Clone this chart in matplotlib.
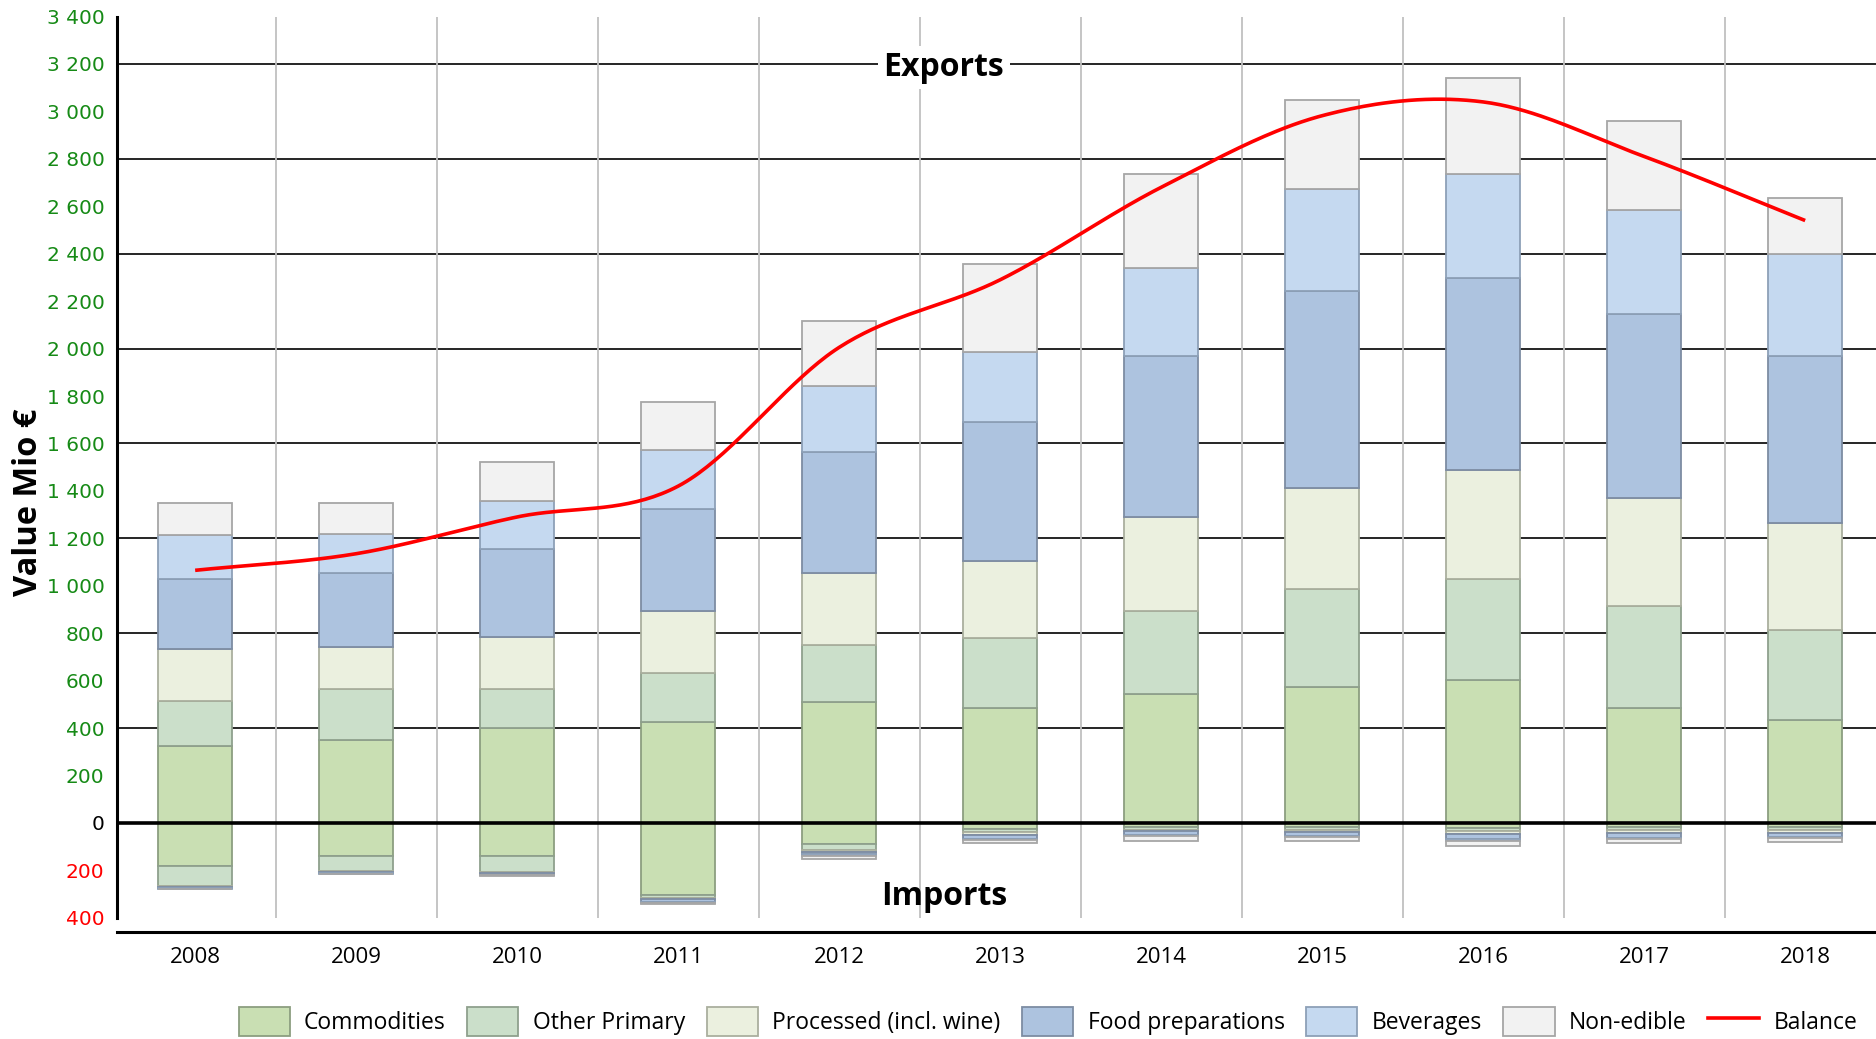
import numpy as np
import matplotlib.pyplot as plt
from matplotlib.ticker import FuncFormatter, MultipleLocator
from matplotlib.lines import Line2D
from matplotlib.patches import Patch


years = ['2008', '2009', '2010', '2011', '2012', '2013',
         '2014', '2015', '2016', '2017', '2018']

# exports, Mio EUR
exp_commod = [323, 348, 399, 424, 510, 485, 545, 571, 601, 485, 434]
exp_other = [192, 218, 167, 207, 242, 293, 349, 414, 429, 429, 379]
exp_proc = [217, 176, 217, 263, 303, 328, 394, 429, 460, 455, 450]
exp_food = [298, 313, 373, 429, 510, 586, 682, 828, 808, 777, 707]
exp_bev = [182, 162, 202, 248, 278, 293, 368, 429, 439, 440, 429]
exp_nonedible = [136, 131, 162, 202, 273, 373, 399, 379, 404, 373, 237]

# imports, Mio EUR (negative)
imp_commod = [-182, -141, -141, -303, -91, -25, -18, -18, -22, -18, -18]
imp_other = [-86, -61, -66, -15, -25, -13, -12, -12, -14, -12, -14]
imp_proc = [-3, -3, -3, -5, -6, -12, -6, -9, -12, -12, -12]
imp_food = [-5, -8, -8, -12, -11, -18, -16, -16, -20, -20, -16]
imp_bev = [-1, -2, -2, -3, -5, -4, -4, -4, -10, -6, -5]
imp_nonedible = [-1, -2, -2, -5, -13, -14, -20, -17, -18, -18, -16]

balance = [1065, 1135, 1290, 1420, 2005, 2290, 2680, 2982, 3040, 2810, 2540]

labels = ['Commodities', 'Other Primary', 'Processed (incl. wine)',
          'Food preparations', 'Beverages', 'Non-edible']
fills = ['#c9dfb3', '#cbdfca', '#ebf0df', '#adc3df', '#c5d9f0', '#f2f2f2']
edges = ['#8c9e80', '#8fa08d', '#aaaf9e', '#7d8ca3', '#8da0b7', '#a6a6a6']


def catmull_rom(xs, ys, n=40):
    # smooth curve through the points, like the spreadsheet "smoothed line"
    x = np.asarray(xs, float)
    y = np.asarray(ys, float)
    px = np.concatenate([[2 * x[0] - x[1]], x, [2 * x[-1] - x[-2]]])
    py = np.concatenate([[2 * y[0] - y[1]], y, [2 * y[-1] - y[-2]]])
    out_x, out_y = [], []
    t = np.linspace(0, 1, n)
    for i in range(1, len(px) - 2):
        for p, out in ((px, out_x), (py, out_y)):
            p0, p1, p2, p3 = p[i - 1], p[i], p[i + 1], p[i + 2]
            seg = 0.5 * (2 * p1 + (-p0 + p2) * t
                         + (2 * p0 - 5 * p1 + 4 * p2 - p3) * t ** 2
                         + (-p0 + 3 * p1 - 3 * p2 + p3) * t ** 3)
            out.extend(seg)
    return np.array(out_x), np.array(out_y)


fig = plt.figure(figsize=(18.76, 10.39), dpi=100)
ax = fig.add_axes([0.0624, 0.103, 0.9376, 0.887])

x = np.arange(len(years))
width = 0.46

# grid: black horizontal every 400, grey vertical between years
for v in range(400, 3300, 400):
    ax.axhline(v, color='black', lw=1.2, zorder=0.5)
ax.vlines(np.arange(len(years) - 1) + 0.5, -400, 3400,
          color='#c0c0c0', lw=1.3, zorder=0.5)

exports = [exp_commod, exp_other, exp_proc, exp_food, exp_bev, exp_nonedible]
imports = [imp_commod, imp_other, imp_proc, imp_food, imp_bev, imp_nonedible]

bottom = np.zeros(len(years))
for vals, fc, ec in zip(exports, fills, edges):
    ax.bar(x, vals, width, bottom=bottom, color=fc, edgecolor=ec,
           linewidth=1.3, zorder=2)
    bottom += np.array(vals)

bottom = np.zeros(len(years))
for vals, fc, ec in zip(imports, fills, edges):
    ax.bar(x, vals, width, bottom=bottom, color=fc, edgecolor=ec,
           linewidth=1.3, zorder=2)
    bottom += np.array(vals)

ax.axhline(0, color='black', lw=2.6, zorder=3)

sx, sy = catmull_rom(x, balance)
ax.plot(sx, sy, color='#ff0000', lw=2.6, zorder=4, solid_capstyle='butt')

ax.text(4.65, 3185, 'Exports', ha='center', va='center', fontsize=23,
        fontweight='bold', family='Open Sans', zorder=5,
        bbox=dict(facecolor='white', edgecolor='none', pad=4))
ax.text(4.65, -312, 'Imports', ha='center', va='center', fontsize=23,
        fontweight='bold', family='Open Sans', zorder=5)

ax.set_xlim(-0.485, 10.44)
ax.set_ylim(-460, 3426)
ax.set_xticks(x)
ax.set_xticklabels(years, family='Open Sans', fontsize=16)
ax.yaxis.set_major_locator(MultipleLocator(200))
ax.yaxis.set_major_formatter(FuncFormatter(
    lambda v, pos: '0' if v == 0 else '{:,}'.format(abs(int(round(v)))).replace(',', ' ')))
ax.tick_params(axis='y', length=0, pad=9, labelsize=14.5)
ax.tick_params(axis='x', length=0, pad=11)
for lab, v in zip(ax.get_yticklabels(), ax.get_yticks()):
    if v > 0:
        lab.set_color('#168a16')
    elif v < 0:
        lab.set_color('#ff0000')
    else:
        lab.set_color('black')

ax.set_ylabel('Value Mio €', family='Open Sans', fontsize=23.5,
              fontweight='bold')
ax.yaxis.set_label_coords(-0.041, 0.466)

for side in ['top', 'right']:
    ax.spines[side].set_visible(False)
ax.spines['left'].set_bounds(-400, 3400)
ax.spines['left'].set_linewidth(2.2)
ax.spines['bottom'].set_linewidth(2.2)

handles = [Patch(facecolor=fc, edgecolor=ec, linewidth=1.3)
           for fc, ec in zip(fills, edges)]
handles.append(Line2D([], [], color='#ff0000', lw=2.6))
fig.legend(handles, labels + ['Balance'], loc='center', ncol=7,
           bbox_to_anchor=(0.5587, 0.017), frameon=False,
           prop={'family': 'Open Sans', 'size': 16.5},
           handlelength=2.23, handleheight=1.6, handletextpad=0.63,
           columnspacing=0.94, borderaxespad=0)

fig.savefig('out.png', dpi=100)
